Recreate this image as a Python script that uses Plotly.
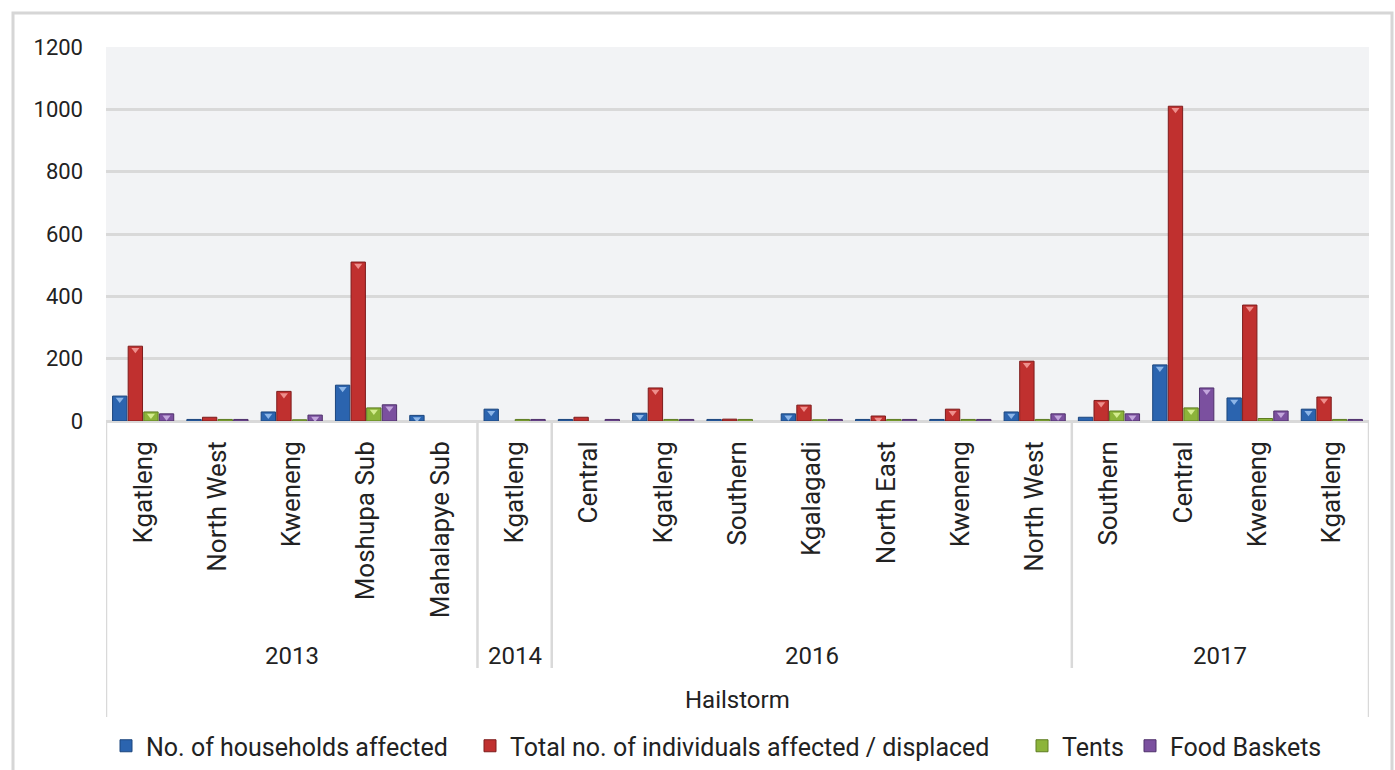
import plotly.graph_objects as go

# Hailstorm impact by district and year
regions = ["Kgatleng", "North West", "Kweneng", "Moshupa Sub", "Mahalapye Sub",
           "Kgatleng",
           "Central", "Kgatleng", "Southern", "Kgalagadi", "North East", "Kweneng", "North West",
           "Southern", "Central", "Kweneng", "Kgatleng"]
years = ["2013"] * 5 + ["2014"] + ["2016"] * 7 + ["2017"] * 4
hazard = "Hailstorm"

# None = nothing reported for that district
households = [80, 5, 29, 115, 18, 38, 5, 25, 5, 23, 5, 5, 29, 12, 180, 74, 38]
individuals = [240, 12, 95, 510, None, None, 12, 106, 6, 51, 16, 38, 192, 66, 1010, 372, 77]
tents = [29, 5, 4, 42, None, 5, None, 5, 5, 4, 5, 5, 5, 32, 42, 8, 5]
food_baskets = [23, 5, 19, 52, None, 5, 5, 5, None, 5, 5, 5, 23, 23, 106, 32, 5]

series = [
    ("No. of households affected", households, "#2B64AF", "#1C467E", "#8DB6E8"),
    ("Total no. of individuals affected / displaced", individuals, "#C0302F", "#7E1C1C", "#EE8F8C"),
    ("Tents", tents, "#8CB43A", "#5E7C22", "#D4EC8E"),
    ("Food Baskets", food_baskets, "#7B509F", "#4F306B", "#C3A6DC"),
]

FONT = "Roboto"
TXT = "#222222"
GRID = "#D9D9D9"

# plot-area geometry in pixels, used to place the extra axis levels
L, R, T, B = 106, 1369, 47, 421
W, H = 1395, 770
ph = B - T
UNITS_PER_PX = 1200 / ph


def py(pix):
    return (B - pix) / ph


def px(pix):
    return (pix - L) / (R - L)


xpos = list(range(len(regions)))
legend_x = [106, 470, 1022, 1130]

fig = go.Figure()
for k, (name, vals, fill, edge, shine) in enumerate(series):
    lg = "legend" if k == 0 else f"legend{k + 1}"
    fig.add_trace(go.Bar(
        x=xpos, y=vals, name=name, legend=lg, offsetgroup=str(k),
        marker=dict(color=fill, line=dict(color=edge, width=1)),
    ))
    # small bevel highlight near the top of each taller bar
    tips = [v - 3.5 * UNITS_PER_PX if (v is not None and v >= 15) else None for v in vals]
    fig.add_trace(go.Scatter(
        x=xpos, y=tips, mode="markers", offsetgroup=str(k), showlegend=False,
        hoverinfo="skip",
        marker=dict(symbol="triangle-down", size=7, color=shine, line=dict(width=0)),
    ))

shapes = []
annotations = []

# year group boundaries and labels
groups = []
start = 0
for i in range(1, len(years) + 1):
    if i == len(years) or years[i] != years[start]:
        groups.append((years[start], start, i - 1))
        start = i

for k, (yr, a, b) in enumerate(groups):
    annotations.append(dict(
        x=(a + b) / 2, y=py(656), xref="x", yref="paper", text=yr,
        showarrow=False, font=dict(family=FONT, size=24, color=TXT),
        xanchor="center", yanchor="middle"))
    if k > 0:
        shapes.append(dict(type="line", xref="x", yref="paper",
                           x0=a - 0.5, x1=a - 0.5, y0=0, y1=py(668),
                           line=dict(color=GRID, width=2.5)))

# outer bounds of the category axis
for xe in (-0.5, len(regions) - 0.5):
    shapes.append(dict(type="line", xref="x", yref="paper",
                       x0=xe, x1=xe, y0=0, y1=py(717),
                       line=dict(color=GRID, width=2.5)))

annotations.append(dict(
    x=(len(regions) - 1) / 2, y=py(700), xref="x", yref="paper", text=hazard,
    showarrow=False, font=dict(family=FONT, size=24, color=TXT),
    xanchor="center", yanchor="middle"))

# chart frame
shapes.append(dict(type="rect", xref="paper", yref="paper",
                   x0=px(13), x1=px(1392), y0=py(13), y1=py(790),
                   line=dict(color="#D6D6D6", width=3), layer="below"))

legend_style = dict(orientation="h", y=py(746), xanchor="left", yanchor="middle",
                    font=dict(family=FONT, size=25, color=TXT),
                    itemwidth=30, bgcolor="rgba(0,0,0,0)")
legends = {}
for k, lx in enumerate(legend_x):
    key = "legend" if k == 0 else f"legend{k + 1}"
    legends[key] = dict(legend_style, x=px(lx))

fig.update_layout(
    width=W, height=H,
    margin=dict(l=L, r=W - R, t=T, b=H - B, autoexpand=False),
    barmode="group", bargap=0.16, bargroupgap=0.08,
    scattermode="group", scattergap=0.16,
    paper_bgcolor="white", plot_bgcolor="#F2F3F5",
    font=dict(family=FONT, size=22, color=TXT),
    shapes=shapes, annotations=annotations,
    xaxis=dict(
        tickmode="array", tickvals=xpos, ticktext=regions, tickangle=-90,
        range=[-0.5, len(regions) - 0.5], showgrid=False, zeroline=False,
        showline=False, ticks="", ticklabelstandoff=14, automargin=False,
        tickfont=dict(family=FONT, size=26, color=TXT),
    ),
    yaxis=dict(
        range=[0, 1200], dtick=200, showgrid=True, gridcolor=GRID, gridwidth=2.5,
        zeroline=True, zerolinecolor=GRID, zerolinewidth=2.5, showline=False,
        ticks="", ticklabelstandoff=22, automargin=False,
        tickfont=dict(family=FONT, size=22, color=TXT),
    ),
    **legends,
)

fig.write_html("out.html")
